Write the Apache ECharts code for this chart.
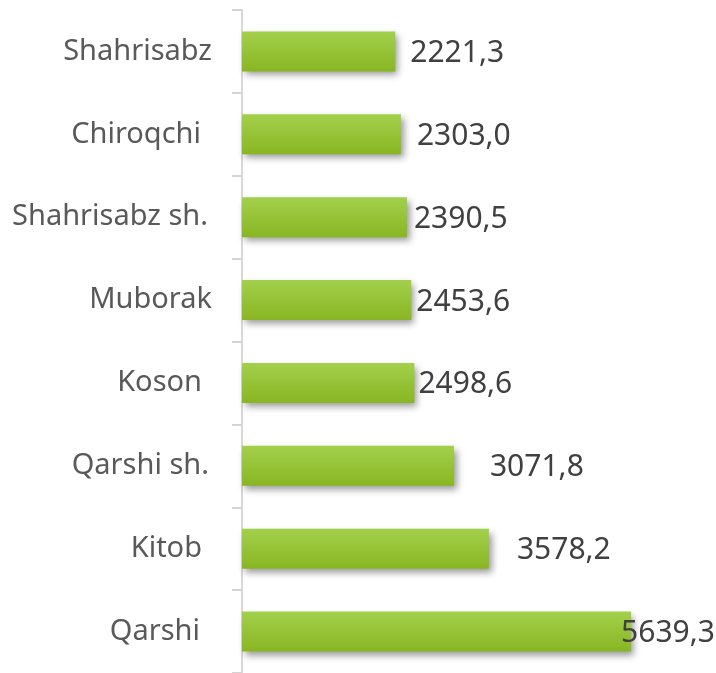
<!DOCTYPE html>
<html><head><meta charset="utf-8">
<script src="https://cdn.jsdelivr.net/npm/echarts@6/dist/echarts.min.js"></script>
<style>html,body{margin:0;padding:0;background:#fff}#c{width:716px;height:673px}</style>
</head><body><div id="c"></div>
<script>
const categories = ["Shahrisabz", "Chiroqchi", "Shahrisabz sh.", "Muborak", "Koson", "Qarshi sh.", "Kitob", "Qarshi"];
const values = [2221.3, 2303.0, 2390.5, 2453.6, 2498.6, 3071.8, 3578.2, 5639.3];
// style only: value-label horizontal offsets and category-label right paddings
const labelOffsets = [15, 16, 7, 5, 4, 36, 28, -10];
const catPads = [0, 11, 4, 0, 10, 3, 10, 12];

const chart = echarts.init(document.getElementById('c'));
const fontFamily = "'Noto Sans', sans-serif";
const seriesData = values.map((v, i) => ({
  value: v,
  label: { offset: [labelOffsets[i] - 5, 2] }
}));
const rich = {};
catPads.forEach((p, i) => {
  rich['c' + i] = { color: '#595959', fontSize: 29, fontFamily: fontFamily, padding: [0, p, 0, 0] };
});
chart.setOption({
  animation: false,
  grid: { left: 242, top: 10, width: 414, height: 664, containLabel: false },
  xAxis: { type: 'value', min: 0, max: 6000, show: false },
  yAxis: {
    type: 'category', inverse: true, data: categories,
    axisLine: { lineStyle: { color: '#d9d9d9', width: 2 } },
    axisTick: { show: true, length: 10, lineStyle: { color: '#d4d4d4', width: 2 } },
    axisLabel: {
      color: '#595959', fontSize: 29, fontFamily: fontFamily, margin: 30,
      formatter: (val, idx) => '{c' + idx + '|' + val + '}',
      rich: rich
    }
  },
  series: [{
    type: 'bar', data: seriesData, barWidth: 40,
    itemStyle: {
      color: new echarts.graphic.LinearGradient(0, 0, 0, 1, [
        { offset: 0, color: '#a3d04c' },
        { offset: 1, color: '#88b622' }
      ]),
      shadowColor: 'rgba(0,0,0,0.4)', shadowBlur: 7, shadowOffsetX: 3, shadowOffsetY: 4
    },
    label: {
      show: true, position: 'right', distance: 5,
      color: '#404040', fontSize: 30, fontFamily: fontFamily,
      formatter: p => p.value.toFixed(1).replace('.', ',')
    }
  }]
});
</script></body></html>
